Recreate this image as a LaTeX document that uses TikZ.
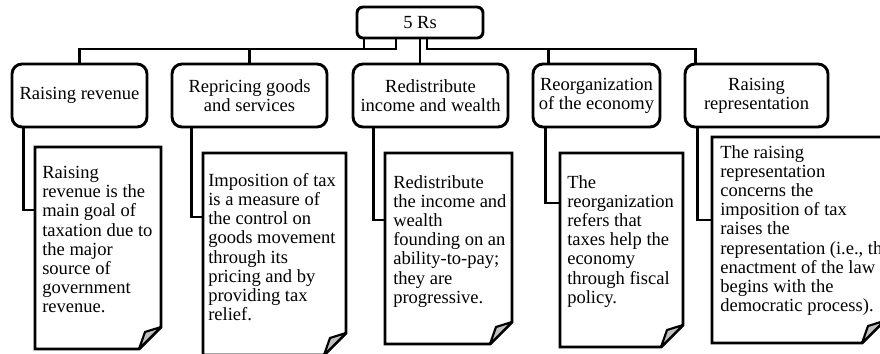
\documentclass[tikz,border=0pt]{standalone}
\usepackage{fontspec}
\setmainfont{Liberation Serif}
\usetikzlibrary{calc}

\definecolor{foldgray}{RGB}{192,192,192}

\tikzset{
  txt/.style={font=\fontsize{13.9}{14.4}\selectfont},
  rbox/.style={txt, draw, line width=2.2pt, rounded corners=7.5pt, align=center, inner sep=2pt, minimum height=47.25pt},
  topbox/.style={txt, draw, line width=2.2pt, rounded corners=4.5pt, inner sep=2pt, minimum width=94.5pt, minimum height=23.25pt},
  notetext/.style={txt, anchor=north west, inner sep=0pt, align=left},
  link/.style={line width=2.2pt, line join=miter},
  pageline/.style={line width=2.2pt, line join=miter},
  curl/.style={fill=foldgray, draw, line width=1.6pt, line join=round}
}

% page with folded corner: name, left, top, right, bottom
\newcommand{\notepage}[5]{%
  \coordinate (#1) at (#2,#3);
  \draw[pageline] (#2,#3) -- (#4,#3) -- (#4,#5-22) -- (#4-22,#5) -- (#2,#5) -- cycle;
  \draw[curl] (#4,#5-22) -- (#4-16,#5-17) -- (#4-22,#5) -- cycle;
}

\begin{document}
\begin{tikzpicture}[x=0.75pt,y=-0.75pt]
\useasboundingbox (0,0) rectangle (880,353);
\clip (0,0) rectangle (880,353);

% top level
\node[topbox] (rs) at (420,22.5) {5 Rs};
\coordinate (bus) at (0,49);

% second level
\node[rbox, minimum width=101.25pt] (c1) at (79.5,95.5) {Raising revenue};
\node[rbox, minimum width=116.25pt] (c2) at (249.5,95.5) {Repricing goods\\and services};
\node[rbox, minimum width=116.25pt] (c3) at (430.5,95.5) {Redistribute\\income and wealth};
\node[rbox, minimum width=95.25pt] (c4) at (596.5,95.5) {Reorganization\\of the economy};
\node[rbox, minimum width=107.25pt] (c5) at (756.5,95.5) {Raising\\representation};

% links from 5 Rs
\draw[link] (rs.south) ++(-56,0) coordinate (s1) -- (s1 |- bus) -| (c1.north);
\draw[link] (rs.south) ++(-24,0) coordinate (s2) -- (s2 |- bus) -| (c2.north);
\draw[link] (rs.south) -- (rs.south |- c3.north);
\draw[link] (rs.south) ++(7,0) coordinate (s4) -- (s4 |- bus) -| ($(c4.north west)+(17,0)$);
\draw[link] (s4) -- (s4 |- bus) -| ($(c5.north west)+(12,0)$);

% notes
\notepage{n1}{35}{147}{161}{349}
\notepage{n2}{203}{153}{346}{355}
\notepage{n3}{385}{153}{512}{344}
\notepage{n4}{560}{153}{683}{347}
\notepage{n5}{712}{137}{884}{343}

\coordinate (n1in) at (35,210);
\coordinate (n2in) at (203,217);
\coordinate (n3in) at (385,220);
\coordinate (n4in) at (560,203);
\coordinate (n5in) at (712,220);

\draw[link] (c1.south west) ++(13,0) |- (n1in);
\draw[link] (c2.south west) ++(21,0) |- (n2in);
\draw[link] (c3.south west) ++(22,0) |- (n3in);
\draw[link] (c4.south west) ++(14,0) |- (n4in);
\draw[link] (c5.south west) ++(14,0) |- (n5in);

% note texts
\node[notetext] (t1) at (42,166) {Raising\\revenue is the\\main goal of\\taxation due to\\the major\\source of\\government\\revenue.};
\node[notetext] (t2) at (208,173) {Imposition of tax\\is a measure of\\the control on\\goods movement\\through its\\pricing and by\\providing tax\\relief.};
\node[notetext] (t3) at (393,175) {Redistribute\\the income and\\wealth\\founding on an\\ability-to-pay;\\they are\\progressive.};
\node[notetext] (t4) at (567,175) {The\\reorganization\\refers that\\taxes help the\\economy\\through fiscal\\policy.};
\node[notetext] (t5) at (720,145) {The raising\\representation\\concerns the\\imposition of tax\\raises the\\representation (i.e., the\\enactment of the law\\begins with the\\democratic process).};
\end{tikzpicture}
\end{document}
